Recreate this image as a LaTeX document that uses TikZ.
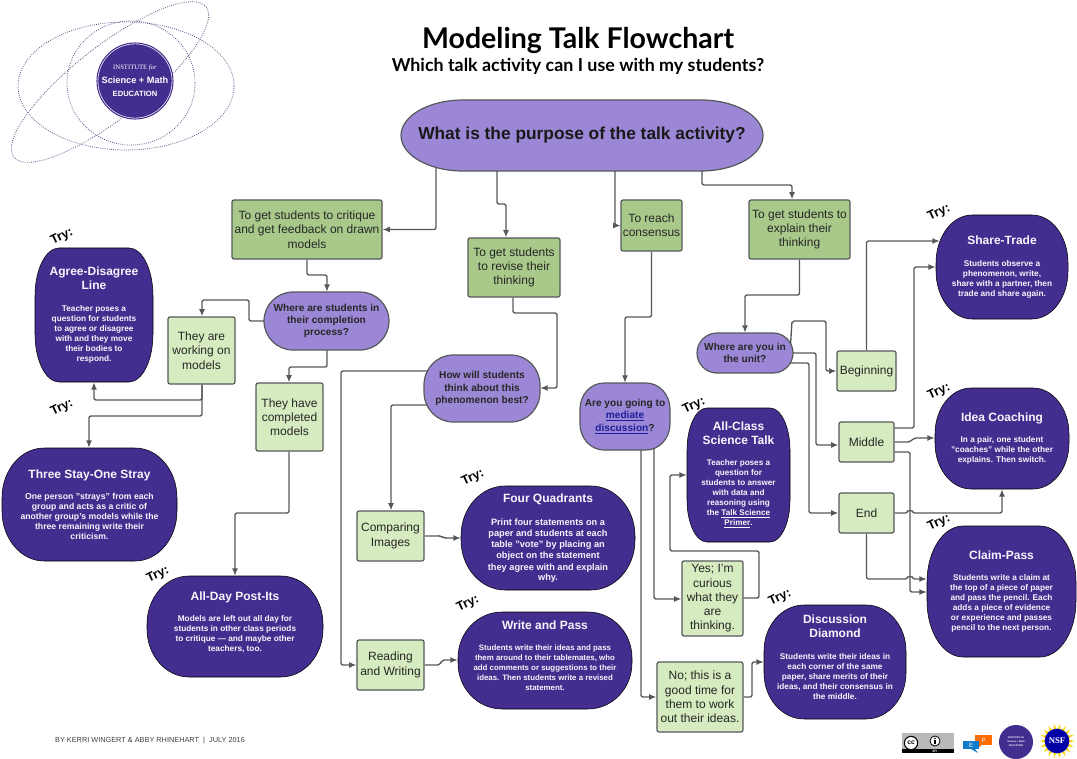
\documentclass[tikz,border=0pt]{standalone}
\usepackage{fontspec}
\setmainfont{Liberation Sans}
\newfontfamily\headfont{Lato}
\newfontfamily\logofont{Liberation Serif}
\usetikzlibrary{arrows.meta,calc}
\definecolor{darkgrape}{HTML}{432E8F}
\definecolor{lightgrape}{HTML}{9B87D5}
\definecolor{darkleaf}{HTML}{A9C98B}
\definecolor{lightleaf}{HTML}{D6EBBF}
\definecolor{edgegray}{HTML}{55585A}
\definecolor{inkblue}{HTML}{1E1E9C}
\pgfdeclarelayer{background}
\pgfsetlayers{background,main}
\tikzset{
  link/.style={draw=edgegray,line width=1pt,rounded corners=1.5pt,-{Latex[length=5.5pt,width=4.5pt]}},
  leafbase/.style={draw=edgegray,line width=.9pt,rounded corners=1.5pt,inner sep=0pt,align=center,text=black!85,
    font=\fontsize{9}{10.7}\selectfont},
  pickbox/.style={leafbase,fill=darkleaf},
  optbox/.style={leafbase,fill=lightleaf},
  askshape/.style={draw=edgegray,line width=.9pt,fill=lightgrape},
  asktext/.style={inner sep=0pt,align=flush center,text=black!85,font=\fontsize{7.6}{9.2}\selectfont\bfseries},
  mainshape/.style={askshape},
  maintext/.style={inner sep=0pt,align=flush center,text=black!90,font=\fontsize{13}{15}\selectfont\bfseries},
  tryshape/.style={fill=darkgrape},
  trytext/.style={inner sep=0pt,align=flush center,text=white!92!lightgrape,font=\fontsize{6.2}{7.5}\selectfont\bfseries},
  tryword/.style={font=\fontsize{9.5}{10}\selectfont\bfseries,rotate=25,inner sep=0pt},
  orbit/.style={draw=darkgrape!60!gray,line width=.6pt,densely dotted},
}
\newcommand{\flowbox}[7]{%
  \node[#1,minimum width={(#4-#2)*.75pt},minimum height={(#5-#3)*.75pt}] (#6) at ({(#2+#4)/2},{(#3+#5)/2}) {#7};
}
\newcommand{\blob}[9]{%
  \draw[#1shape] ({#2+#6},#3) -- ({#4-#6},#3) arc[start angle=-90,end angle=0,x radius=#6,y radius=#7]
    -- (#4,{#5-#7}) arc[start angle=0,end angle=90,x radius=#6,y radius=#7]
    -- ({#2+#6},#5) arc[start angle=90,end angle=180,x radius=#6,y radius=#7]
    -- (#2,{#3+#7}) arc[start angle=180,end angle=270,x radius=#6,y radius=#7] -- cycle;
  \node[#1text,text width={(#4-#2)*.75pt},minimum height={(#5-#3)*.75pt}] (#8) at ({(#2+#4)/2},{(#3+#5)/2}) {#9};
}
\newcommand{\trytitle}[1]{{\fontsize{9}{10.7}\selectfont #1\par}\vspace{8.5pt}}
\begin{document}
\begin{tikzpicture}[x=.75pt,y=-.75pt]
\useasboundingbox (0,0) rectangle (1077,759);
% heading
\node[font=\headfont\fontsize{21.4}{24}\selectfont\bfseries] (Heading) at (578,40) {Modeling Talk Flowchart};
\node[font=\headfont\fontsize{13.4}{15}\selectfont\bfseries] (Subheading) at (578,66) {Which talk activity can I use with my students?};
% institute logo
\draw[orbit] (126,86) ellipse [x radius=108,y radius=64];
\draw[orbit,rotate around={38:(110,82)}] (110,82) ellipse [x radius=122,y radius=36];
\draw[orbit] (131,83) ellipse [x radius=64,y radius=62];
\node[circle,fill=darkgrape,draw=white,double=darkgrape,double distance=.8pt,line width=.5pt,minimum size=57pt,inner sep=0pt,text=white,align=center,
  font=\fontsize{6.9}{10}\selectfont\bfseries] (LogoDisc) at (135,81)
  {{\logofont\fontsize{5}{10}\selectfont\mdseries INSTITUTE \textit{for}}\\Science + Math\\{\fontsize{5.7}{10}\selectfont EDUCATION}};
% top question and aims
\blob{main}{401}{100}{763}{171}{62}{35.5}{Main}{What is the purpose of the talk activity?}
\flowbox{pickbox}{232}{200}{382}{259}{Critique}{To get students to critique\\and get feedback on drawn\\models}
\flowbox{pickbox}{468}{238}{560}{297}{Revise}{To get students\\to revise their\\thinking}
\flowbox{pickbox}{621}{200}{682}{251}{Consensus}{To reach\\consensus}
\flowbox{pickbox}{749}{200}{850}{259}{Explain}{To get students to\\explain their\\thinking}
% follow-up questions
\blob{ask}{264}{292}{389}{350}{29}{29}{CompletionQ}{Where are students in\\their completion\\process?}
\blob{ask}{424}{355}{540}{422}{29}{30}{ThinkQ}{How will students\\think about this\\phenomenon best?}
\blob{ask}{580}{383}{670}{450}{24}{26}{MediateQ}{Are you going to\\{\color{inkblue}\underline{mediate}}\\{\color{inkblue}\underline{discussion}}?}
\blob{ask}{697}{333}{793}{373}{20}{20}{UnitQ}{Where are you in\\the unit?}
% answers
\flowbox{optbox}{168}{317}{235}{384}{Working}{They are\\working on\\models}
\flowbox{optbox}{256}{383}{323}{451}{Completed}{They have\\completed\\models}
\flowbox{optbox}{357}{511}{424}{561}{Images}{Comparing\\Images}
\flowbox{optbox}{357}{640}{424}{690}{Reading}{Reading\\and Writing}
\flowbox{optbox}{682}{561}{743}{636}{Curious}{Yes; I'm\\curious\\what they\\are\\thinking.}
\flowbox{optbox}{657}{662}{743}{732}{WorkOut}{No; this is a\\good time for\\them to work\\out their ideas.}
\flowbox{optbox}{837}{351}{896}{391}{Beginning}{Beginning}
\flowbox{optbox}{839}{422}{894}{462}{Middle}{Middle}
\flowbox{optbox}{839}{493}{894}{533}{Finish}{End}
% activities
\blob{try}{35}{248}{153}{382}{24}{48}{AgreeLine}{\trytitle{Agree-Disagree\\Line}Teacher poses a\\question for students\\to agree or disagree\\with and they move\\their bodies to\\respond.}
\blob{try}{2}{448}{177}{561}{42}{50}{ThreeStay}{\fontsize{6.5}{7.5}\selectfont\trytitle{Three Stay-One Stray}One person "strays" from each\\group and acts as a critic of\\another group's models while the\\three remaining write their\\criticism.}
\blob{try}{147}{576}{323}{677}{42}{48}{PostIts}{\trytitle{All-Day Post-Its}Models are left out all day for\\students in other class periods\\to critique --- and maybe other\\teachers, too.\\\mbox{}}
\blob{try}{461}{486}{635}{590}{44}{50}{Quadrants}{\fontsize{6.9}{8.4}\selectfont\trytitle{Four Quadrants}Print four statements on a\\paper and students at each\\table "vote" by placing an\\object on the statement\\they agree with and explain\\why.}
\blob{try}{458}{612}{632}{709}{44}{46}{WritePass}{\fontsize{5.9}{7.5}\selectfont\trytitle{Write and Pass}Students write their ideas and pass\\them around to their tablemates, who\\add comments or suggestions to their\\ideas. Then students write a revised\\statement.\\\mbox{}}
\blob{try}{687}{408}{790}{542}{20}{42}{ScienceTalk}{\fontsize{6.1}{7.5}\selectfont\trytitle{All-Class\\Science Talk}Teacher poses a\\question for\\students to answer\\with data and\\reasoning using\\the \underline{Talk Science}\\\underline{Primer}.}
\blob{try}{764}{605}{906}{719}{40}{46}{Diamond}{\trytitle{Discussion\\Diamond}Students write their ideas in\\each corner of the same\\paper, share merits of their\\ideas, and their consensus in\\the middle.\\\mbox{}}
\blob{try}{936}{215}{1068}{319}{36}{48}{ShareTrade}{\trytitle{Share-Trade}Students observe a\\phenomenon, write,\\share with a partner, then\\trade and share again.}
\blob{try}{935}{388}{1069}{489}{36}{46}{IdeaCoach}{\trytitle{Idea Coaching}In a pair, one student\\"coaches" while the other\\explains. Then switch.}
\blob{try}{927}{526}{1076}{657}{36}{56}{ClaimPass}{\trytitle{Claim-Pass}Students write a claim at\\the top of a piece of paper\\and pass the pencil. Each\\adds a piece of evidence\\or experience and passes\\pencil to the next person.}
% try marks
\node[tryword] (TryAgree) at (62,237) {Try:};
\node[tryword] (TryStay) at (62,408) {Try:};
\node[tryword] (TryPostIts) at (158,575) {Try:};
\node[tryword] (TryTalk) at (694,406) {Try:};
\node[tryword] (TryQuadrants) at (473,478) {Try:};
\node[tryword] (TryWrite) at (468,604) {Try:};
\node[tryword] (TryDiamond) at (780,598) {Try:};
\node[tryword] (TryShare) at (939,213) {Try:};
\node[tryword] (TryCoach) at (939,392) {Try:};
\node[tryword] (TryClaim) at (939,523) {Try:};
% connectors
\begin{pgfonlayer}{background}
\draw[link] (Main.center -| 436,0) |- (Critique.east);
\draw[link] (Main.center -| 497,0) -- (497,204) -- (506,204) -- (Revise.north -| 506,0);
\draw[link] (Main.center -| 615,0) |- (Consensus.west);
\draw[link] (Main.center -| 702,0) |- (792,185) -- (Explain.north -| 792,0);
\draw[link] (Critique.south -| 307,0) |- (327,275) -- (CompletionQ.north -| 327,0);
\draw[link] (CompletionQ.center) -- (249,321) |- (202,300) -- (Working.north -| 202,0);
\draw[link] (CompletionQ.south -| 327,0) |- (289,367) -- (Completed.north -| 289,0);
\draw[link] (Working.south -| 202,0) |- (94,400) -- (AgreeLine.south -| 94,0);
\draw[link] (Working.south -| 202,0) |- (89,416) -- (ThreeStay.north -| 89,0);
\draw[link] (Completed.south -| 289,0) |- (235,513) -- (PostIts.north -| 235,0);
\draw[link] (Revise.south -| 513,0) |- (557,313) |- (ThinkQ.east |- 0,388);
\draw[link] (ThinkQ.center |- 0,371) -| (341,500) |- (Reading.west);
\draw[link] (ThinkQ.center |- 0,405) -| (Images.north -| 391,0);
\draw[link] (Images.east |- 0,536) -- (441,536) -- (444,538) -- (Quadrants.west |- 0,538);
\draw[link] (Reading.east |- 0,665) -- (440,665) -- (442,660) -- (WritePass.west |- 0,660);
\draw[link] (Consensus.south) |- (625,317) -- (MediateQ.north -| 625,0);
\draw[link] (MediateQ.center -| 641,0) |- (WorkOut.west |- 0,697);
\draw[link] (MediateQ.center -| 654,0) |- (Curious.west |- 0,599);
\draw[link] (Curious.east |- 0,598) -| (759,551) -| (670,500) |- (ScienceTalk.west |- 0,475);
\draw[link] (WorkOut.east |- 0,697) -| (752,680) |- (Diamond.west |- 0,662);
\draw[link] (Explain.south) |- (745,295) -- (UnitQ.north -| 745,0);
\draw[link] (UnitQ.center -| 790,0) -- (792,321) -- (826,321) |- (Beginning.west);
\draw[link] (UnitQ.center |- 0,353) -| (816,400) |- (Middle.west |- 0,445);
\draw[link] (UnitQ.center |- 0,363) -| (809,450) |- (Finish.west);
\draw[link,shorten >=-3pt] (Beginning.north) |- (ShareTrade.west |- 0,241);
\draw[link] (Middle.east |- 0,428) -| (914,350) |- (ShareTrade.west |- 0,267);
\draw[link] (Middle.east |- 0,442) -- (910,442) -- (914,438) -- (IdeaCoach.west |- 0,438);
\draw[link] (Middle.east |- 0,452) -| (910,500) |- (ClaimPass.west |- 0,592);
\draw[link] (Finish.east) -- (907.5,513) arc[start angle=180,end angle=360,radius=2.5] -| (IdeaCoach.south -| 1002,0);
\draw[link] (Finish.south) |- (907.5,579) arc[start angle=180,end angle=360,radius=2.5] -- (ClaimPass.west |- 0,579);
\end{pgfonlayer}
% footer
\node[font=\fontsize{5.5}{6}\selectfont,text=black!75] (Credit) at (150,741) {BY KERRI WINGERT \& ABBY RHINEHART~~|~~JULY 2016};
\fill[gray!55] (902,733) rectangle (954,753);
\fill[black] (902,749) rectangle (954,753);
\node[text=white,inner sep=0pt,font=\fontsize{2.5}{3}\selectfont\bfseries] (ByWord) at (935,751) {BY};
\node[circle,draw=black,line width=.8pt,fill=white,minimum size=10pt,inner sep=0pt,font=\fontsize{5}{5}\selectfont\bfseries] (CcMark) at (911,743) {cc};
\node[circle,draw=black,line width=.6pt,fill=white,minimum size=7.5pt,inner sep=0pt] (ByMark) at (935,741) {};
\fill[black] (935,738.5) circle (.9);
\fill[black] (933.6,740.2) rectangle (936.4,744);
\fill[orange!85!red] (978,745) -- (982,745) -- (976,749) -- cycle;
\node[fill=orange!85!red,minimum width=12.5pt,minimum height=7.5pt,inner sep=0pt,text=white,font=\fontsize{4.5}{5}\selectfont] (OrangeTalk) at (983.5,740) {P};
\fill[cyan!60!blue] (975,749) -- (971,749) -- (978,753) -- cycle;
\node[fill=cyan!60!blue,minimum width=12pt,minimum height=6.5pt,inner sep=0pt,text=white,font=\fontsize{4.5}{5}\selectfont] (BlueTalk) at (971,745) {E};
\node[circle,fill=darkgrape,minimum size=25.5pt,inner sep=0pt,text=white,align=center,font=\fontsize{1.8}{3}\selectfont\bfseries] (SmallDisc) at (1016,742) {INSTITUTE for\\Science + Math\\EDUCATION};
\foreach \ang in {0,20,...,340}
  \fill[yellow!70!orange] ($(1057,741)+(\ang-7:12)$) -- ($(1057,741)+(\ang:17.5)$) -- ($(1057,741)+(\ang+7:12)$) -- cycle;
\node[circle,fill=blue!65!black,minimum size=18.5pt,inner sep=0pt,text=white,font=\logofont\fontsize{6.5}{8}\selectfont\bfseries] (NsfDisc) at (1057,741) {NSF};
\end{tikzpicture}
\end{document}
